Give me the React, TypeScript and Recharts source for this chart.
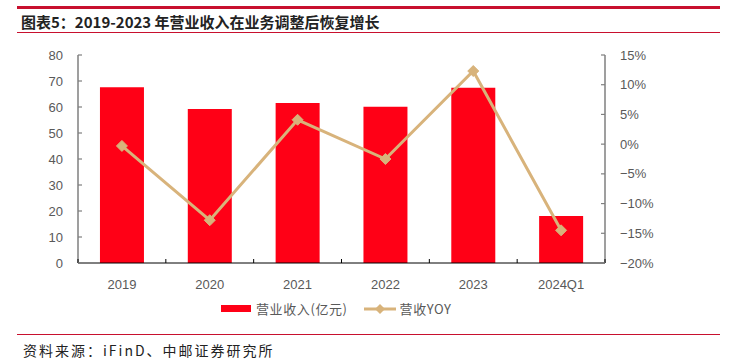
import React from 'react';
import { ComposedChart, Bar, Line, XAxis, YAxis } from 'recharts';

// values
const periods = ['2019', '2020', '2021', '2022', '2023', '2024Q1'];
const revenue = [67.6, 59.2, 61.5, 60.1, 67.4, 18.1];
const yoy = [-0.3, -12.8, 4.1, -2.5, 12.3, -14.5];
const leftTicks = [0, 10, 20, 30, 40, 50, 60, 70, 80];
const rightTicks = [-20, -15, -10, -5, 0, 5, 10, 15];

const data = periods.map((p, i) => ({ period: p, revenue: revenue[i], yoy: yoy[i] }));

const RED = '#FF0016';
const TAN = '#D8B37B';
const AXIS = '#7F7F7F';
const LABEL = '#595959';
const CJK = '"Noto Sans CJK SC", "Liberation Sans", sans-serif';

const W = 734;
const H = 362;
const margin = { top: 55, right: 89, left: 30, bottom: 69 };
const LEFT_W = 48;
const RIGHT_W = 40;
const plotW = W - margin.left - margin.right - LEFT_W - RIGHT_W;
const band = plotW / periods.length;

const TICK_SIZE = 6;
const TICK_MARGIN = 9;

const Diamond = (props: any) => {
  const { cx, cy } = props;
  if (cx == null || cy == null) return null;
  const r = 5.5;
  return (
    <path
      d={`M${cx},${cy - r}L${cx + r},${cy}L${cx},${cy + r}L${cx - r},${cy}Z`}
      fill={TAN}
      stroke={TAN}
    />
  );
};

// y tick: label plus a short inward tick mark
const YTick = (props: any) => {
  const { x, y, payload, side } = props;
  const off = TICK_SIZE + TICK_MARGIN;
  const axisX = side === 'left' ? x + off : x - off;
  const inner = side === 'left' ? axisX + 4 : axisX - 4;
  const v = payload.value as number;
  const label = side === 'left' ? String(v) : `${v < 0 ? '\u2212' + Math.abs(v) : v}%`;
  return (
    <g>
      <line x1={axisX} y1={y} x2={inner} y2={y} stroke={AXIS} strokeWidth={1.2} />
      <text
        x={x}
        y={y}
        dy={4.5}
        textAnchor={side === 'left' ? 'end' : 'start'}
        fill={LABEL}
        fontSize={13}
        fontFamily="Liberation Sans"
      >
        {label}
      </text>
    </g>
  );
};

// x tick: label plus inward ticks at category boundaries
const XTick = (props: any) => {
  const { x, y, payload, index } = props;
  const axisY = y - TICK_SIZE - TICK_MARGIN;
  const last = index === periods.length - 1;
  return (
    <g>
      <line x1={x - band / 2} y1={axisY} x2={x - band / 2} y2={axisY - 4} stroke="#000" />
      {last && <line x1={x + band / 2} y1={axisY} x2={x + band / 2} y2={axisY - 4} stroke="#000" />}
      <text x={x} y={y} dy={11} textAnchor="middle" fill={LABEL} fontSize={13} fontFamily="Liberation Sans">
        {payload.value}
      </text>
    </g>
  );
};

export default function App() {
  return (
    <div style={{ position: 'fixed', left: 0, top: 0, width: W, height: H, background: '#fff', overflow: 'hidden' }}>
      {/* header */}
      <div style={{ position: 'absolute', left: 17, top: 6, width: 703, height: 3, background: '#C8102E' }} />
      <div
        style={{
          position: 'absolute',
          left: 21,
          top: 11,
          fontFamily: CJK,
          fontWeight: 'bold',
          fontSize: 15,
          color: '#222',
          whiteSpace: 'nowrap',
        }}
      >
        图表5：2019-2023 年营业收入在业务调整后恢复增长
      </div>
      <div style={{ position: 'absolute', left: 17, top: 32, width: 703, height: 1, background: '#C8102E' }} />

      <div style={{ position: 'absolute', left: 0, top: 0 }}>
        <ComposedChart width={W} height={H} data={data} margin={margin} barCategoryGap="25%">
          <XAxis
            dataKey="period"
            axisLine={{ stroke: '#000' }}
            tickLine={false}
            tickSize={TICK_SIZE}
            tickMargin={TICK_MARGIN}
            tick={<XTick />}
            interval={0}
            height={30}
          />
          <YAxis
            yAxisId="left"
            domain={[0, 80]}
            ticks={leftTicks}
            interval={0}
            axisLine={{ stroke: AXIS, strokeWidth: 1.5 }}
            tickLine={false}
            tickSize={TICK_SIZE}
            tickMargin={TICK_MARGIN}
            tick={<YTick side="left" />}
            width={LEFT_W}
          />
          <YAxis
            yAxisId="right"
            orientation="right"
            domain={[-20, 15]}
            ticks={rightTicks}
            interval={0}
            axisLine={{ stroke: AXIS, strokeWidth: 1.5 }}
            tickLine={false}
            tickSize={TICK_SIZE}
            tickMargin={TICK_MARGIN}
            tick={<YTick side="right" />}
            width={RIGHT_W}
          />
          <Bar yAxisId="left" dataKey="revenue" fill={RED} isAnimationActive={false} />
          <Line
            yAxisId="right"
            dataKey="yoy"
            stroke={TAN}
            strokeWidth={3}
            dot={<Diamond />}
            activeDot={false}
            isAnimationActive={false}
          />
        </ComposedChart>
      </div>

      {/* legend */}
      <div
        style={{
          position: 'absolute',
          left: 221,
          top: 299,
          display: 'flex',
          alignItems: 'center',
          fontFamily: CJK,
          fontSize: 13,
          letterSpacing: 0.6,
          color: LABEL,
          whiteSpace: 'nowrap',
        }}
      >
        <span style={{ display: 'inline-block', width: 30, height: 7, background: RED, marginRight: 5 }} />
        <span>营业收入(亿元)</span>
        <svg width={32} height={12} style={{ marginLeft: 16, marginRight: 4 }}>
          <line x1={0} y1={6} x2={32} y2={6} stroke={TAN} strokeWidth={3} />
          <path d="M16,1L21,6L16,11L11,6Z" fill={TAN} />
        </svg>
        <span>营收YOY</span>
      </div>

      {/* footer */}
      <div style={{ position: 'absolute', left: 17, top: 334, width: 703, height: 1, background: '#C8102E' }} />
      <div
        style={{
          position: 'absolute',
          left: 23,
          top: 340,
          fontFamily: CJK,
          fontSize: 14,
          letterSpacing: 2,
          color: '#222',
          whiteSpace: 'nowrap',
        }}
      >
        资料来源：iFinD、中邮证券研究所
      </div>
    </div>
  );
}
